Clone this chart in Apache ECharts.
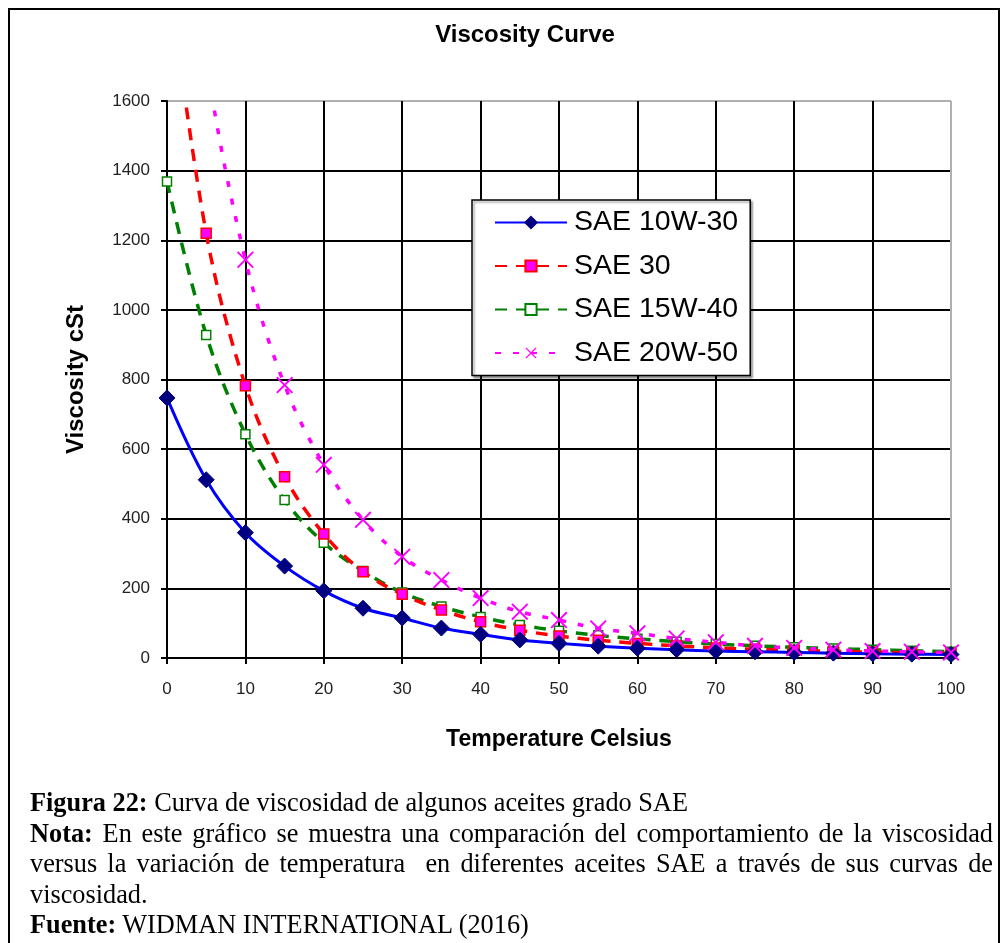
<!DOCTYPE html>
<html>
<head>
<meta charset="utf-8">
<script src="https://cdn.jsdelivr.net/npm/echarts@6/dist/echarts.min.js"></script>
<style>
  html, body { margin: 0; padding: 0; background: #fff; }
  #wrap { position: relative; width: 1005px; height: 943px; overflow: hidden; }
  #chart { position: absolute; left: 0; top: 0; width: 1005px; height: 943px; }
  #frame { position: absolute; left: 8px; top: 8px; width: 992px; height: 1000px; border: 2px solid #000; box-sizing: border-box; pointer-events: none; }
  #caption { position: absolute; left: 30px; top: 788px; width: 963px; font-family: "Liberation Serif", "Times New Roman", serif; font-size: 26.3px; line-height: 30.5px; color: #000; text-align: justify; }
  #caption p { margin: 0; }
</style>
</head>
<body>
<div id="wrap">
  <div id="chart"></div>
  <div id="frame"></div>
  <div id="caption">
    <p><b>Figura 22:</b> Curva de viscosidad de algunos aceites grado SAE</p>
    <p><b>Nota:</b> En este gráfico se muestra una comparación del comportamiento de la viscosidad versus la variación de temperatura&nbsp; en diferentes aceites SAE a través de sus curvas de viscosidad.</p>
    <p><b>Fuente:</b> WIDMAN INTERNATIONAL (2016)</p>
  </div>
</div>
<script>
// ---- data ----
const temps = [0, 5, 10, 15, 20, 25, 30, 35, 40, 45, 50, 55, 60, 65, 70, 75, 80, 85, 90, 95, 100];
const sae10w30 = [747, 512, 360, 264, 193, 143, 115, 86, 68, 52, 42, 34, 28, 24, 20, 18, 16, 14, 12, 11, 10];
const sae30    = [2000, 1220, 782, 521, 356, 248, 183, 138, 104, 80, 63, 51, 42, 35, 29, 25, 22, 19, 17, 15, 13];
const sae15w40 = [1369, 928, 643, 454, 331, 250, 188, 148, 118, 95, 78, 65, 55, 47, 40, 35, 31, 27, 24, 21, 18];
const sae20w50 = [2650, 1720, 1144, 784, 555, 397, 291, 224, 172, 133, 109, 85, 71, 56, 45, 35, 29, 24, 20, 18, 16];
const seriesNames = ['SAE 10W-30', 'SAE 30', 'SAE 15W-40', 'SAE 20W-50'];
const yTicks = [0, 200, 400, 600, 800, 1000, 1200, 1400, 1600];
const xTicks = [0, 10, 20, 30, 40, 50, 60, 70, 80, 90, 100];

const pairs = arr => temps.map((t, i) => [t, arr[i]]);
const xMark = 'path://M0,0.8L0.8,0L5,4.2L9.2,0L10,0.8L5.8,5L10,9.2L9.2,10L5,5.8L0.8,10L0,9.2L4.2,5Z';

const ySplitColors = yTicks.map((v, i) => i === yTicks.length - 1 ? '#b0b0b0' : '#000');
const xSplitColors = xTicks.map((v, i) => i === xTicks.length - 1 ? '#b0b0b0' : '#000');
const axisFont = { fontFamily: 'Liberation Sans, Arial, sans-serif', fontSize: 17, color: '#222' };
const nameFont = { fontFamily: 'Liberation Sans, Arial, sans-serif', fontSize: 23, fontWeight: 'bold', color: '#000' };

const chart = echarts.init(document.getElementById('chart'), null, { renderer: 'canvas' });
chart.setOption({
  animation: false,
  backgroundColor: '#fff',
  title: {
    text: 'Viscosity Curve',
    left: 520, top: 18, textAlign: 'center',
    textStyle: { fontFamily: 'Liberation Sans, Arial, sans-serif', fontSize: 24, fontWeight: 'bold', color: '#000' }
  },
  grid: { left: 167, right: 54, top: 101, bottom: 285, containLabel: false },
  legend: {
    data: seriesNames,
    orient: 'vertical',
    left: 472, top: 200,
    backgroundColor: '#fff',
    borderColor: '#000', borderWidth: 1.5, borderRadius: 0,
    shadowColor: 'rgba(0,0,0,0.35)', shadowOffsetX: 2, shadowOffsetY: 2, shadowBlur: 2,
    padding: [8, 12, 8, 22],
    itemWidth: 72, itemHeight: 14, itemGap: 14.5,
    textStyle: { fontFamily: 'Liberation Sans, Arial, sans-serif', fontSize: 28.5, color: '#000', padding: [0, 0, 0, 2] }
  },
  xAxis: {
    type: 'value', min: 0, max: 100, interval: 10,
    axisLine: { show: true, onZero: false, lineStyle: { color: '#000', width: 2 } },
    axisTick: { show: true, inside: false, length: 6, lineStyle: { color: '#000', width: 2 } },
    axisLabel: Object.assign({ margin: 23 }, axisFont),
    splitLine: { show: true, lineStyle: { color: xSplitColors, width: 2 } },
    name: 'Temperature Celsius', nameLocation: 'middle', nameGap: 70,
    nameTextStyle: nameFont
  },
  yAxis: {
    type: 'value', min: 0, max: 1600, interval: 200,
    axisLine: { show: true, lineStyle: { color: '#000', width: 2 } },
    axisTick: { show: true, inside: false, length: 6, lineStyle: { color: '#000', width: 2 } },
    axisLabel: Object.assign({ margin: 17, formatter: v => String(v) }, axisFont),
    splitLine: { show: true, lineStyle: { color: ySplitColors, width: 2 } },
    name: 'Viscosity cSt', nameLocation: 'middle', nameGap: 79, nameRotate: 90,
    nameTextStyle: Object.assign({}, nameFont, { fontSize: 24 })
  },
  series: [
    {
      name: seriesNames[0], type: 'line', data: pairs(sae10w30), smooth: 0.35, clip: true,
      symbol: 'diamond', symbolSize: 16, z: 5,
      lineStyle: { color: '#0000ff', width: 3 },
      itemStyle: { color: '#000080', borderColor: '#000080', borderWidth: 1 }
    },
    {
      name: seriesNames[1], type: 'line', data: pairs(sae30), smooth: 0.35, clip: true,
      symbol: 'rect', symbolSize: 10, z: 4,
      lineStyle: { color: '#ff0000', width: 3.5, type: [12, 9] },
      itemStyle: { color: '#ff00ff', borderColor: '#ff0000', borderWidth: 1.5 }
    },
    {
      name: seriesNames[2], type: 'line', data: pairs(sae15w40), smooth: 0.35, clip: true,
      symbol: 'rect', symbolSize: 9, z: 3,
      lineStyle: { color: '#008000', width: 3.5, type: [12, 9] },
      itemStyle: { color: '#ffffff', borderColor: '#008000', borderWidth: 1.5 }
    },
    {
      name: seriesNames[3], type: 'line', data: pairs(sae20w50), smooth: 0.35, clip: true,
      symbol: xMark, symbolSize: 17, z: 6,
      lineStyle: { color: '#ff00ff', width: 3.5, type: [6, 12] },
      itemStyle: { color: '#ff00ff', borderWidth: 0 }
    }
  ]
});
</script>
</body>
</html>
